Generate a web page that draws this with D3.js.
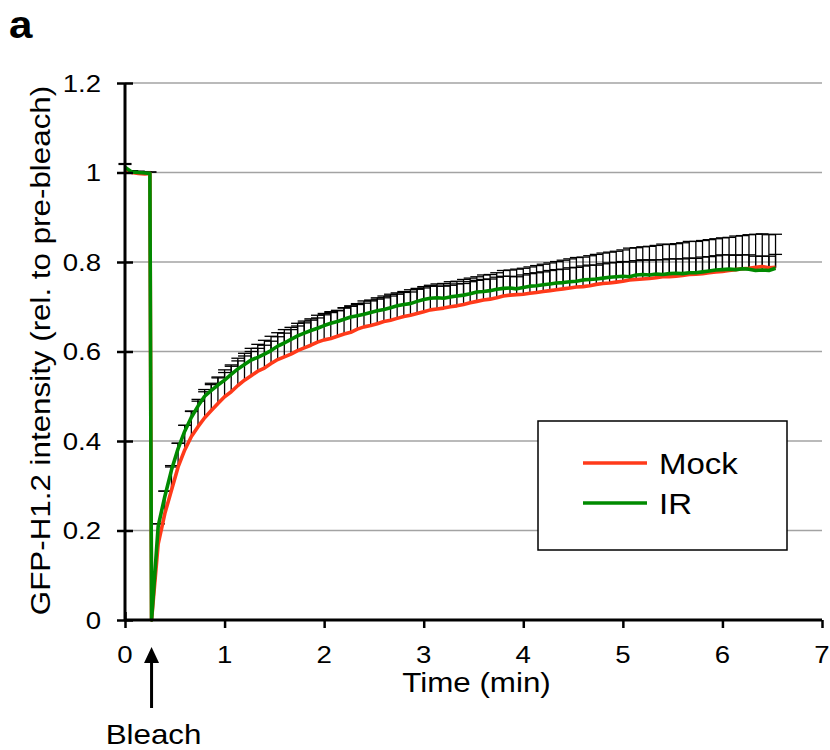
<!DOCTYPE html>
<html>
<head>
<meta charset="utf-8">
<script src="https://cdn.jsdelivr.net/npm/d3@7"></script>
<style>
  body { margin: 0; background: #fff; }
  text { font-family: "Liberation Sans", Arial, Helvetica, sans-serif; fill: #000; }
</style>
</head>
<body>
<svg id="chart" width="830" height="750"></svg>
<script>
// FRAP recovery, time in seconds (bleach at ~16 s)
const timeSec = [
  0, 4, 8, 12, 15, 16, 20, 24, 28, 32,
  36, 40, 44, 48, 52, 56, 60, 64, 68, 72,
  76, 80, 84, 88, 92, 96, 100, 104, 108, 112,
  116, 120, 124, 128, 132, 136, 140, 144, 148, 152,
  156, 160, 164, 168, 172, 176, 180, 184, 188, 192,
  196, 200, 204, 208, 212, 216, 220, 224, 228, 232,
  236, 240, 244, 248, 252, 256, 260, 264, 268, 272,
  276, 280, 284, 288, 292, 296, 300, 304, 308, 312,
  316, 320, 324, 328, 332, 336, 340, 344, 348, 352,
  356, 360, 364, 368, 372, 376, 380, 384, 388, 392
];

const mockValues = [
  1.008, 1.000, 0.998, 0.997, 0.998, 0.000, 0.170, 0.238, 0.290, 0.342,
  0.380, 0.410, 0.432, 0.452, 0.468, 0.484, 0.499, 0.510, 0.524, 0.536,
  0.546, 0.556, 0.563, 0.573, 0.582, 0.588, 0.594, 0.602, 0.608, 0.614,
  0.621, 0.626, 0.629, 0.634, 0.639, 0.643, 0.650, 0.655, 0.658, 0.662,
  0.667, 0.670, 0.674, 0.678, 0.681, 0.685, 0.689, 0.693, 0.695, 0.697,
  0.700, 0.702, 0.705, 0.709, 0.712, 0.715, 0.717, 0.720, 0.724, 0.726,
  0.727, 0.728, 0.730, 0.732, 0.734, 0.736, 0.738, 0.740, 0.742, 0.744,
  0.745, 0.747, 0.750, 0.752, 0.753, 0.755, 0.757, 0.760, 0.761, 0.762,
  0.763, 0.765, 0.767, 0.767, 0.768, 0.770, 0.772, 0.773, 0.774, 0.776,
  0.778, 0.779, 0.781, 0.783, 0.785, 0.786, 0.788, 0.790, 0.787, 0.788
];

const irValues = [
  1.012, 1.001, 1.000, 0.999, 0.998, 0.000, 0.210, 0.276, 0.335, 0.383,
  0.422, 0.453, 0.478, 0.500, 0.513, 0.525, 0.536, 0.549, 0.561, 0.571,
  0.581, 0.587, 0.594, 0.602, 0.612, 0.619, 0.627, 0.635, 0.641, 0.647,
  0.652, 0.658, 0.663, 0.667, 0.672, 0.677, 0.680, 0.683, 0.687, 0.691,
  0.694, 0.698, 0.702, 0.705, 0.707, 0.712, 0.716, 0.719, 0.720, 0.719,
  0.722, 0.724, 0.726, 0.729, 0.733, 0.734, 0.736, 0.739, 0.741, 0.742,
  0.740, 0.743, 0.746, 0.747, 0.749, 0.751, 0.753, 0.754, 0.756, 0.757,
  0.760, 0.761, 0.762, 0.764, 0.766, 0.767, 0.768, 0.767, 0.771, 0.772,
  0.771, 0.773, 0.772, 0.774, 0.775, 0.774, 0.776, 0.776, 0.778, 0.780,
  0.782, 0.783, 0.784, 0.783, 0.785, 0.784, 0.781, 0.782, 0.781, 0.786
];

// upper error bars (SD)
const mockErr = [
  0.010, 0.004, 0.003, 0.003, 0.003, 0.000, 0.045, 0.050, 0.052, 0.053,
  0.055, 0.056, 0.057, 0.058, 0.058, 0.059, 0.060, 0.060, 0.061, 0.060,
  0.061, 0.060, 0.062, 0.061, 0.060, 0.061, 0.060, 0.061, 0.060, 0.059,
  0.060, 0.059, 0.060, 0.058, 0.059, 0.058, 0.057, 0.058, 0.057, 0.058,
  0.057, 0.058, 0.057, 0.056, 0.057, 0.056, 0.056, 0.055, 0.056, 0.055,
  0.056, 0.055, 0.056, 0.055, 0.055, 0.056, 0.055, 0.056, 0.057, 0.056,
  0.057, 0.058, 0.059, 0.060, 0.061, 0.062, 0.063, 0.064, 0.065, 0.066,
  0.066, 0.067, 0.067, 0.068, 0.069, 0.069, 0.070, 0.071, 0.071, 0.072,
  0.072, 0.072, 0.073, 0.072, 0.073, 0.073, 0.074, 0.073, 0.074, 0.074,
  0.074, 0.075, 0.074, 0.075, 0.074, 0.075, 0.074, 0.073, 0.074, 0.074
];

const irErr = [
  0.008, 0.003, 0.003, 0.003, 0.003, 0.000, 0.005, 0.012, 0.010, 0.012,
  0.013, 0.014, 0.015, 0.015, 0.016, 0.016, 0.017, 0.018, 0.018, 0.019,
  0.019, 0.020, 0.020, 0.021, 0.021, 0.022, 0.022, 0.022, 0.023, 0.023,
  0.023, 0.024, 0.024, 0.024, 0.025, 0.025, 0.025, 0.025, 0.026, 0.026,
  0.026, 0.026, 0.026, 0.027, 0.026, 0.027, 0.026, 0.027, 0.026, 0.027,
  0.026, 0.027, 0.026, 0.027, 0.026, 0.027, 0.026, 0.027, 0.027, 0.026,
  0.027, 0.028, 0.028, 0.029, 0.029, 0.030, 0.030, 0.030, 0.031, 0.031,
  0.031, 0.032, 0.031, 0.032, 0.032, 0.032, 0.033, 0.033, 0.032, 0.033,
  0.033, 0.032, 0.033, 0.033, 0.032, 0.033, 0.033, 0.032, 0.033, 0.032,
  0.032, 0.033, 0.032, 0.032, 0.031, 0.032, 0.032, 0.031, 0.032, 0.031
];

const xTicks = [0, 1, 2, 3, 4, 5, 6, 7];
const yTicks = [0, 0.2, 0.4, 0.6, 0.8, 1, 1.2];
const seriesNames = ['Mock', 'IR'];
const seriesColors = ['#ff3a1a', '#008a00'];
const bleachTime = 16; // seconds

const svg = d3.select('#chart');

// the reference type is a little wider than plain Arial
function label(parent, x, y, str, size, anchor, weight, sx) {
  return parent.append('g')
    .attr('transform', `translate(${x},${y}) scale(${sx || 1.1},1)`)
    .append('text')
    .attr('text-anchor', anchor || 'start')
    .style('font-size', size + 'px')
    .style('font-weight', weight || 'normal')
    .text(str);
}

// scales
const x = d3.scaleLinear().domain([0, 7]).range([125, 822]);
const y = d3.scaleLinear().domain([0, 1.2]).range([620, 83]);

// gridlines
svg.append('g')
  .selectAll('line')
  .data(yTicks.filter((d) => d > 0))
  .join('line')
  .attr('x1', x(0))
  .attr('x2', x(7))
  .attr('y1', (d) => y(d))
  .attr('y2', (d) => y(d))
  .style('stroke', '#a3a3a3')
  .style('stroke-width', 1.6);

// build point lists
const series = [mockValues, irValues].map((vals, i) => ({
  name: seriesNames[i],
  color: seriesColors[i],
  points: vals.map((v, j) => ({ t: timeSec[j] / 60, v: v, e: (i === 0 ? mockErr : irErr)[j] }))
}));

// error bars (upper only)
const errG = svg.append('g');
series.forEach((s) => {
  const g = errG.append('g');
  const pts = s.points.filter((p) => p.e > 0);
  g.selectAll('line.bar')
    .data(pts)
    .join('line')
    .attr('class', 'bar')
    .attr('x1', (p) => x(p.t))
    .attr('x2', (p) => x(p.t))
    .attr('y1', (p) => y(p.v))
    .attr('y2', (p) => y(p.v + p.e))
    .style('stroke', '#000')
    .style('stroke-width', 1.3);
  g.selectAll('line.cap')
    .data(pts)
    .join('line')
    .attr('class', 'cap')
    .attr('x1', (p) => x(p.t) - 6.5)
    .attr('x2', (p) => x(p.t) + 6.5)
    .attr('y1', (p) => y(p.v + p.e))
    .attr('y2', (p) => y(p.v + p.e))
    .style('stroke', '#000')
    .style('stroke-width', 1.3);
});

// lines
const line = d3.line()
  .x((p) => x(p.t))
  .y((p) => y(p.v));

series.forEach((s) => {
  svg.append('path')
    .datum(s.points)
    .attr('d', line)
    .style('fill', 'none')
    .style('stroke', s.color)
    .style('stroke-width', 3.6)
    .style('stroke-linejoin', 'round');
});

// y-axis
const yAxis = svg.append('g')
  .attr('transform', `translate(${x(0)},0)`)
  .call(d3.axisLeft(y).tickValues(yTicks).tickSize(8).tickFormat(d3.format('~g')));
yAxis.select('.domain').style('stroke-width', 3).attr('d', `M0,${y(1.2)}V${y(0) + 1}`);
yAxis.selectAll('.tick line').attr('x1', 8).style('stroke-width', 2.5);
yAxis.selectAll('.tick text').remove();
yTicks.forEach((d) => label(svg, x(0) - 24, y(d) + 8.5, d3.format('~g')(d), 24, 'end', 'normal', 1.15));

// x-axis
const xAxis = svg.append('g')
  .attr('transform', `translate(0,${y(0)})`)
  .call(d3.axisBottom(x).tickValues(xTicks).tickSize(8).tickFormat(d3.format('d')));
xAxis.select('.domain').style('stroke-width', 3).attr('d', `M${x(0) - 1},0H${x(7)}`);
xAxis.selectAll('.tick line').style('stroke-width', 2.5);
xAxis.selectAll('.tick').filter((d) => d === 0).select('line').attr('y1', -8);
xAxis.selectAll('.tick text').remove();
xTicks.forEach((d) => label(svg, x(d), y(0) + 43, d, 24, 'middle', 'normal', 1.15));

// axis titles
label(svg, x(3.53), 692, 'Time (min)', 28.5, 'middle');
svg.append('g')
  .attr('transform', `translate(50,${y(0.6) - 1}) rotate(-90) scale(1.1,1)`)
  .append('text')
  .attr('text-anchor', 'middle')
  .style('font-size', '28.5px')
  .text('GFP-H1.2 intensity (rel. to pre-bleach)');

// panel letter
label(svg, 9, 38, 'a', 39, 'start', 'bold', 1.08);

// bleach arrow
const bx = x(bleachTime / 60);
svg.append('line')
  .attr('x1', bx).attr('x2', bx)
  .attr('y1', 660).attr('y2', 708)
  .style('stroke', '#000')
  .style('stroke-width', 3);
svg.append('path')
  .attr('d', `M${bx},647L${bx - 7.5},663L${bx + 7.5},663Z`)
  .style('fill', '#000');
label(svg, bx + 2, 744, 'Bleach', 28.5, 'middle');

// legend
const legend = svg.append('g');
legend.append('rect')
  .attr('x', 538).attr('y', 421)
  .attr('width', 249).attr('height', 129)
  .style('fill', '#fff')
  .style('stroke', '#000')
  .style('stroke-width', 1.5);
series.forEach((s, i) => {
  const ly = 463 + i * 40;
  legend.append('line')
    .attr('x1', 583).attr('x2', 647)
    .attr('y1', ly).attr('y2', ly)
    .style('stroke', s.color)
    .style('stroke-width', 3.4);
  label(legend, 659, ly + 11, s.name, 30, 'start');
});
</script>
</body>
</html>
